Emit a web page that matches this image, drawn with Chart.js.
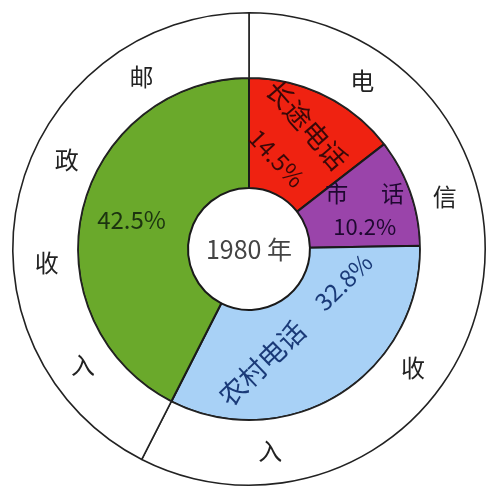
<!DOCTYPE html>
<html>
<head>
<meta charset="utf-8">
<script src="https://cdn.jsdelivr.net/npm/chart.js@4.4.0/dist/chart.umd.min.js"></script>
<style>
  html, body { margin:0; padding:0; background:#fff; }
  #wrap { width:487px; height:487px; }
</style>
</head>
<body>
<div id="wrap"><canvas id="pie" width="487" height="487"></canvas></div>
<script>
// --- Data ---
const outerLabels = ['电信收入', '邮政收入'];
const outerValues = [57.5, 42.5];
const innerLabels = ['长途电话', '市话', '农村电话', '邮政'];
const innerValues = [14.5, 10.2, 32.8, 42.5];
const innerColors = ['#ef2211', '#9a44aa', '#a8d1f6', '#6aa92b'];
const centerTitle = '1980 年';

const FONT = '"Noto Sans CJK SC", "Noto Sans", sans-serif';

// --- text helper: angle in degrees clockwise from top, r in px from centre ---
function putText(ctx, cx, cy, txt, angDeg, r, opts) {
  const a = angDeg * Math.PI / 180;
  const x = cx + r * Math.sin(a);
  const y = cy - r * Math.cos(a);
  ctx.save();
  ctx.translate(x, y);
  ctx.rotate((opts.rot || 0) * Math.PI / 180);
  ctx.font = opts.font;
  ctx.fillStyle = opts.color;
  ctx.textAlign = 'center';
  ctx.textBaseline = 'middle';
  ctx.fillText(txt, 0, 0);
  ctx.restore();
}

// --- Labels plugin ---
const labelPlugin = {
  id: 'labels',
  afterDatasetsDraw(chart) {
    const ctx = chart.ctx;
    const arc = chart.getDatasetMeta(1).data[0];
    const cx = arc.x, cy = arc.y;
    const outerArc = chart.getDatasetMeta(0).data[0];
    const rMid = (outerArc.innerRadius + outerArc.outerRadius) / 2;

    // outer ring characters
    const outerChars = [
      ['电', 34], ['信', 75], ['收', 126], ['入', 174],
      ['入', 235], ['收', 266], ['政', 296], ['邮', 328]
    ];
    outerChars.forEach(([ch, ang]) => putText(ctx, cx, cy, ch, ang, rMid - 1, { font: '24px ' + FONT, color: '#222' }));

    // inner ring labels
    putText(ctx, cx, cy, innerLabels[0], 25, 137, { font: '27px ' + FONT, color: '#3a0808', rot: 49 });
    putText(ctx, cx, cy, innerValues[0] + '%', 17, 95, { font: '24px ' + FONT, color: '#3a0808', rot: 47 });
    putText(ctx, cx, cy, '市', 57.5, 104, { font: '23px ' + FONT, color: '#1e0830' });
    putText(ctx, cx, cy, '话', 68.6, 154, { font: '23px ' + FONT, color: '#1e0830' });
    putText(ctx, cx, cy, innerValues[1] + '%', 79, 118, { font: '22px ' + FONT, color: '#1e0830' });
    putText(ctx, cx, cy, innerLabels[2], 173.5, 115, { font: '27px ' + FONT, color: '#1a3a78', rot: -44 });
    putText(ctx, cx, cy, innerValues[2] + '%', 109.3, 100, { font: '24px ' + FONT, color: '#1a3a78', rot: -44 });
    putText(ctx, cx, cy, innerValues[3] + '%', 284, 121, { font: '24px ' + FONT, color: '#1c3410' });

    // centre
    putText(ctx, cx, cy, centerTitle, 0, 0, { font: '25px ' + FONT, color: '#444' });
  }
};

new Chart(document.getElementById('pie').getContext('2d'), {
  type: 'doughnut',
  data: {
    labels: innerLabels,
    datasets: [
      {
        label: '收入',
        data: outerValues,
        backgroundColor: '#ffffff',
        borderColor: '#222',
        borderWidth: 1.6,
        weight: 65
      },
      {
        label: '构成',
        data: innerValues,
        backgroundColor: innerColors,
        borderColor: '#1a1a1a',
        borderWidth: 2,
        weight: 110
      }
    ]
  },
  options: {
    responsive: false,
    animation: false,
    cutout: '25.8%',
    layout: { padding: { left: 12, top: 12, right: 1, bottom: 1 } },
    plugins: { legend: { display: false }, tooltip: { enabled: false } }
  },
  plugins: [labelPlugin]
});
</script>
</body>
</html>
